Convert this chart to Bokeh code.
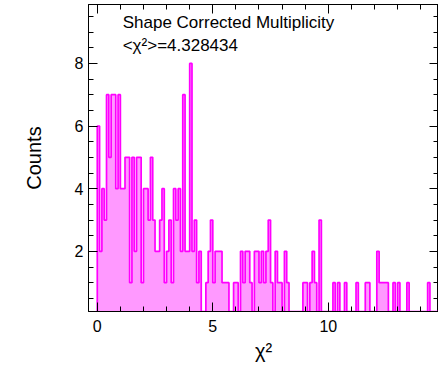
import numpy as np
from bokeh.plotting import figure
from bokeh.models import Range1d, LinearAxis, SingleIntervalTicker, Label, CustomJSTickFormatter
from bokeh.embed import file_html
from bokeh.resources import INLINE

# Histogram of chi-square values, 0.1 wide bins starting at 0
bin_width = 0.1
counts = [
    6, 2, 4, 3, 7, 5, 7, 7, 4, 7,
    4, 4, 5, 5, 1, 5, 2, 5, 5, 1,
    4, 4, 3, 5, 3, 2, 2, 3, 4, 1,
    2, 3, 1, 4, 3, 4, 2, 7, 2, 2,
    8, 2, 3, 1, 2, 0, 0, 1, 2, 3,
    1, 2, 2, 2, 1, 1, 1, 0, 0, 1,
    1, 0, 2, 1, 2, 2, 1, 0, 2, 2,
    1, 2, 1, 2, 3, 1, 0, 2, 1, 1,
    0, 2, 1, 0, 0, 0, 0, 0, 0, 1,
    1, 0, 1, 2, 1, 0, 3, 0, 0, 0,
    0, 0, 1, 0, 1, 0, 0, 1, 0, 0,
    0, 0, 1, 0, 0, 0, 1, 1, 0, 0,
    0, 2, 1, 1, 1, 1, 0, 0, 1, 0,
    1, 0, 0, 0, 1, 0, 0, 0, 0, 0,
    0, 0, 0, 1, 0, 0, 0, 0, 0, 0,
]
x_ticks = [0, 5, 10]
y_ticks = [2, 4, 6, 8]
title_line = "Shape Corrected Multiplicity"
mean_line = "<\u03c7\u00b2>=4.328434"

x_lo, x_hi = -0.38, 14.77
y_lo, y_hi = 0.08, 9.88

FONT = "Liberation Sans"

p = figure(width=438, height=372, output_backend="svg", toolbar_location=None,
           x_range=Range1d(x_lo, x_hi), y_range=Range1d(y_lo, y_hi),
           min_border_left=88, min_border_right=0, min_border_top=4, min_border_bottom=61,
           x_axis_label="\u03c7\u00b2", y_axis_label="Counts")
p.background_fill_color = "white"
p.border_fill_color = "white"
p.outline_line_color = "black"
p.outline_line_width = 1
p.xgrid.visible = False
p.ygrid.visible = False

# step outline of the histogram, zero bins resting on the frame floor
counts_arr = np.array(counts, dtype=float)
edges = np.arange(len(counts_arr) + 1) * bin_width
tops = np.maximum(counts_arr, y_lo)
xs = np.repeat(edges, 2)
ys = np.concatenate([[y_lo], np.repeat(tops, 2), [y_lo]])
p.patch(xs, ys, fill_color="#ff00ff", fill_alpha=0.4, line_color=None)
p.line(xs, ys, line_color="#ff00ff", line_width=1.7)


def style_axis(ax, interval, minor, labels=True):
    ax.ticker = SingleIntervalTicker(interval=interval, num_minor_ticks=minor)
    ax.axis_line_color = "black"
    ax.major_tick_line_color = "black"
    ax.minor_tick_line_color = "black"
    ax.major_tick_in = 9
    ax.major_tick_out = 0
    ax.minor_tick_in = 5
    ax.minor_tick_out = 0
    if labels:
        ax.major_label_text_font = FONT
        ax.major_label_text_font_size = "16px"
        ax.major_label_text_color = "black"
        ax.axis_label_text_font = FONT
        ax.axis_label_text_font_size = "20px"
        ax.axis_label_text_font_style = "normal"
        ax.axis_label_text_color = "black"
    else:
        ax.formatter = CustomJSTickFormatter(code="return ''")
        ax.major_label_text_font_size = "0px"
        ax.major_label_standoff = 0


xa = p.xaxis[0]
ya = p.yaxis[0]
style_axis(xa, 5, 5)
style_axis(ya, 2, 4)
xa.major_label_standoff = 8
xa.axis_label_standoff = 5
ya.major_label_standoff = 5
ya.axis_label_standoff = 27

top_axis = LinearAxis()
style_axis(top_axis, 5, 5, labels=False)
p.add_layout(top_axis, "above")
right_axis = LinearAxis()
style_axis(right_axis, 2, 4, labels=False)
p.add_layout(right_axis, "right")

for text, ypos in [(title_line, 9.30), (mean_line, 8.56)]:
    p.add_layout(Label(x=1.1, y=ypos, text=text, text_font=FONT, text_font_size="17px",
                       text_color="black", text_baseline="alphabetic"))

open("out.html", "w").write(file_html(p, INLINE))
